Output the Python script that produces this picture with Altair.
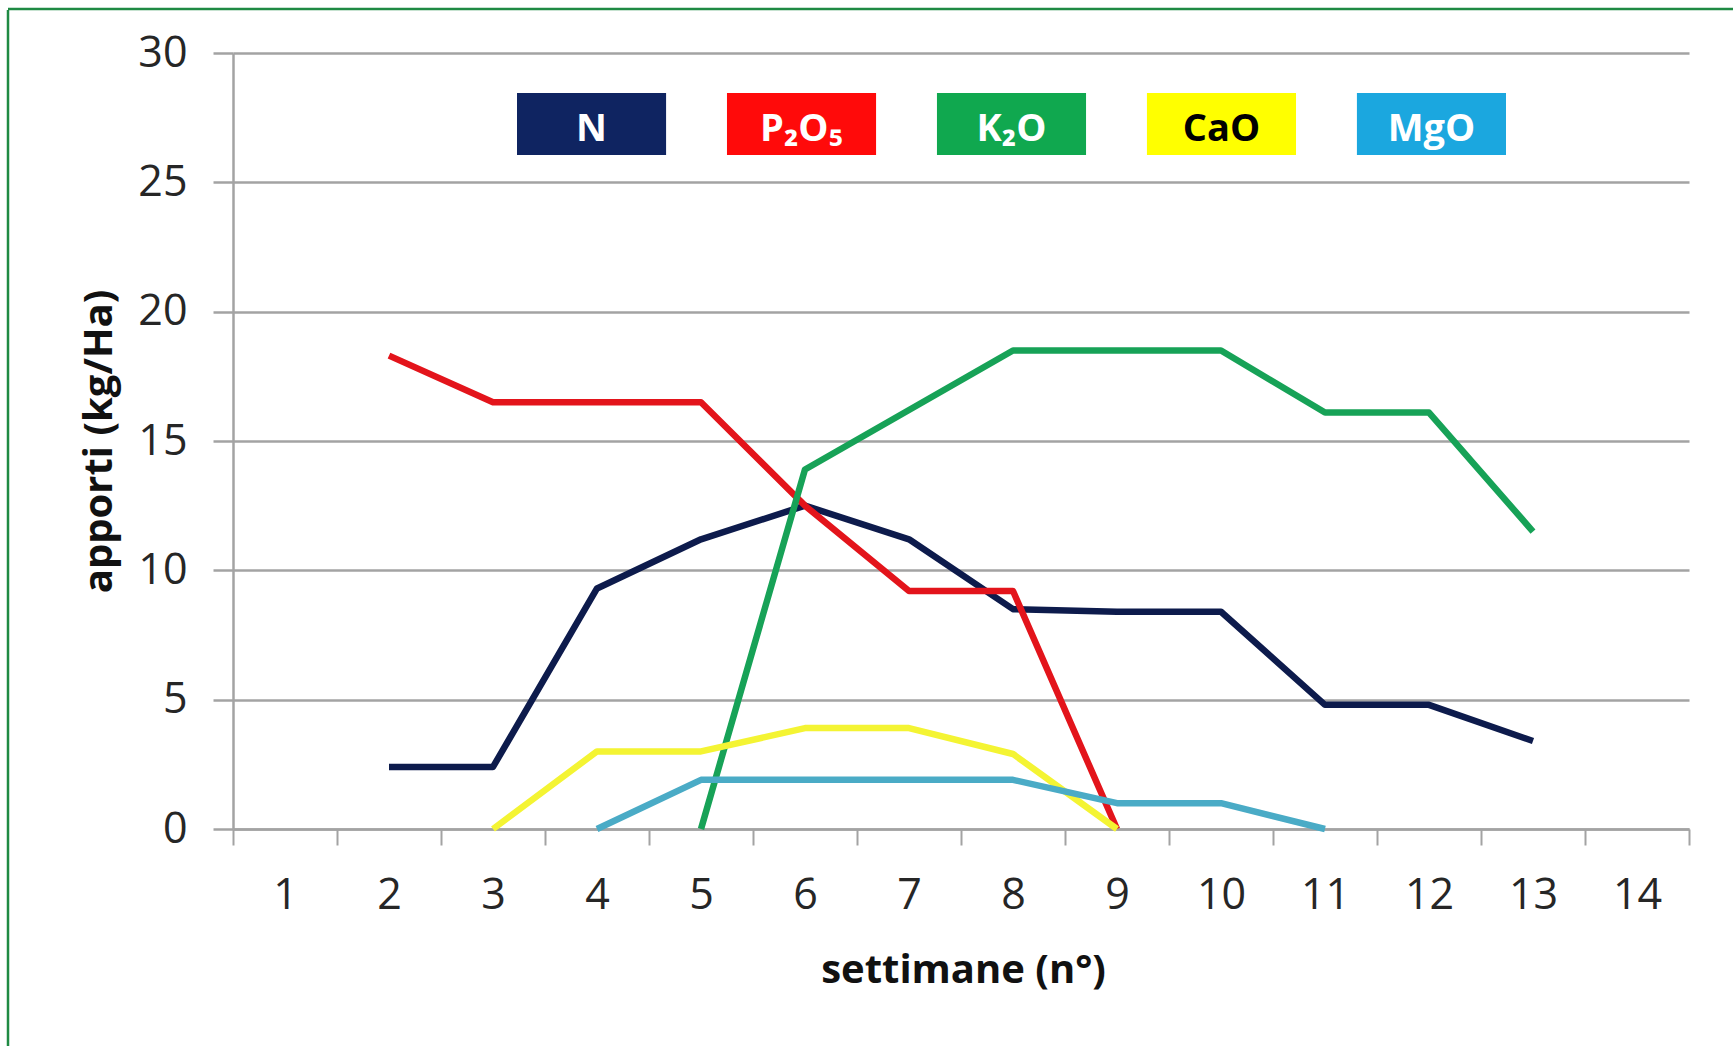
import altair as alt
import pandas as pd

# Weeks on the horizontal axis
weeks = list(range(1, 15))

# Nutrient series (kg/Ha per week)
nutrients = ["N", "P₂O₅", "K₂O", "CaO", "MgO"]

n_weeks = [2, 3, 4, 5, 6, 7, 8, 9, 10, 11, 12, 13]
n_values = [2.4, 2.4, 9.3, 11.2, 12.5, 11.2, 8.5, 8.4, 8.4, 4.8, 4.8, 3.4]

p_weeks = [2, 3, 4, 5, 6, 7, 8, 9]
p_values = [18.3, 16.5, 16.5, 16.5, 12.5, 9.2, 9.2, 0.0]

k_weeks = [5, 6, 7, 8, 9, 10, 11, 12, 13]
k_values = [0.0, 13.9, 16.2, 18.5, 18.5, 18.5, 16.1, 16.1, 11.5]

ca_weeks = [3, 4, 5, 6, 7, 8, 9]
ca_values = [0.0, 3.0, 3.0, 3.9, 3.9, 2.9, 0.0]

mg_weeks = [4, 5, 6, 7, 8, 9, 10, 11]
mg_values = [0.0, 1.9, 1.9, 1.9, 1.9, 1.0, 1.0, 0.0]

# Colours: lines, legend boxes, legend label ink
line_colors = ["#0d1b4c", "#e3141b", "#17a257", "#f4f433", "#4aabc6"]
box_colors = ["#0f2461", "#ff0a0a", "#10a84f", "#ffff00", "#1ba7df"]
label_colors = ["#ffffff", "#ffffff", "#ffffff", "#000000", "#ffffff"]

y_ticks = [0, 5, 10, 15, 20, 25, 30]

series = [
    (nutrients[0], n_weeks, n_values),
    (nutrients[1], p_weeks, p_values),
    (nutrients[2], k_weeks, k_values),
    (nutrients[3], ca_weeks, ca_values),
    (nutrients[4], mg_weeks, mg_values),
]
rows = []
for order, (name, wk, vals) in enumerate(series):
    for w, v in zip(wk, vals):
        rows.append({"nutrient": name, "order": order, "week": w, "value": v})
lines_df = pd.DataFrame(rows)

legend_df = pd.DataFrame({"nutrient": nutrients, "fill": box_colors, "ink": label_colors})

FONT = "Open Sans"
GRID = "#a3a3a3"

x_week = alt.X(
    "week:O",
    scale=alt.Scale(type="band", domain=weeks, paddingInner=0, paddingOuter=0),
    bandPosition=0.5,
    axis=alt.Axis(
        title="settimane (n°)",
        tickBand="extent",
        grid=False,
        labelAngle=0,
        labelFont=FONT,
        labelFontSize=43,
        labelColor="#262626",
        labelBaseline="alphabetic",
        labelPadding=63,
        tickSize=16,
        tickWidth=2,
        tickColor=GRID,
        domainColor=GRID,
        domainWidth=2.5,
        titleFont=FONT,
        titleFontSize=40,
        titleFontWeight="bold",
        titleColor="#111111",
        titleX=730,
        titleY=153,
        titleAlign="center",
        titleBaseline="alphabetic",
    ),
)

y_val = alt.Y(
    "value:Q",
    scale=alt.Scale(domain=[0, 30], nice=False, zero=True),
    axis=alt.Axis(
        title="apporti (kg/Ha)",
        values=y_ticks,
        grid=True,
        gridColor=GRID,
        gridWidth=2.5,
        labelFont=FONT,
        labelFontSize=43,
        labelColor="#262626",
        labelPadding=26,
        tickSize=20,
        tickWidth=2.5,
        tickColor=GRID,
        domainColor=GRID,
        domainWidth=2.5,
        titleFont=FONT,
        titleFontSize=40,
        titleFontWeight="bold",
        titleColor="#111111",
        titleAngle=270,
        titleX=-122,
        titleY=388,
        titleAlign="center",
        titleBaseline="alphabetic",
    ),
)

lines = alt.Chart(lines_df).mark_line(
    strokeWidth=6.5, strokeJoin="round", strokeCap="butt"
).encode(
    x=x_week,
    y=y_val,
    color=alt.Color(
        "nutrient:N",
        scale=alt.Scale(domain=nutrients, range=line_colors),
        legend=None,
    ),
    detail="order:O",
)

legend_x = alt.X(
    "nutrient:N",
    sort=nutrients,
    scale=alt.Scale(type="band", range=[284, 1273], paddingInner=0.29, paddingOuter=0),
    axis=None,
)

legend_boxes = alt.Chart(legend_df).mark_rect().encode(
    x=legend_x,
    y=alt.value(40),
    y2=alt.value(102),
    color=alt.Color("fill:N", scale=None),
)

legend_text = alt.Chart(legend_df).mark_text(
    font=FONT, fontSize=38, fontWeight="bold", baseline="alphabetic", align="center"
).encode(
    x=legend_x,
    y=alt.value(88),
    text="nutrient:N",
    color=alt.Color("ink:N", scale=None),
)

frame_src = alt.Data(values=[{"edge": 1}])
frame_left = alt.Chart(frame_src).mark_rule(color="#1f8a43", strokeWidth=2.5).encode(
    x=alt.value(-225), y=alt.value(-43), y2=alt.value(993)
)
frame_top = alt.Chart(frame_src).mark_rule(color="#1f8a43", strokeWidth=2.5).encode(
    x=alt.value(-225), x2=alt.value(1500), y=alt.value(-44)
)

chart = (
    alt.layer(lines, legend_boxes, legend_text, frame_left, frame_top)
    .resolve_scale(x="independent", color="independent")
    .properties(
        width=1456,
        height=776,
        autosize=alt.AutoSizeParams(type="none"),
        padding={"left": 233, "top": 53, "right": 44, "bottom": 217},
        background="#ffffff",
    )
    .configure_view(stroke=None)
)

chart.save("out.html", embed_options={"renderer": "svg", "actions": False})
